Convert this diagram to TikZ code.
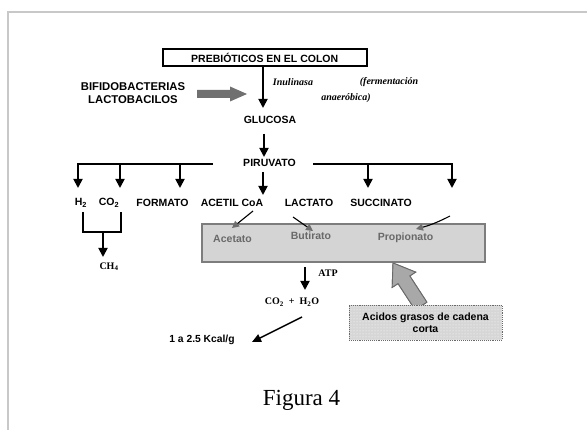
\documentclass[tikz,border=0pt]{standalone}
\usepackage{fontspec}
\setmainfont{Liberation Sans}
\newfontfamily\arialf{Liberation Sans}
\newfontfamily\serf{Liberation Serif}
\usetikzlibrary{arrows.meta,calc,patterns}
\definecolor{pagegrey}{RGB}{200,200,200}
\definecolor{boxfill}{RGB}{212,212,212}
\definecolor{boxborder}{RGB}{125,125,125}
\definecolor{grtext}{RGB}{105,105,105}
\definecolor{arrgrey}{RGB}{110,110,110}
\definecolor{bifarrow}{RGB}{112,112,112}
\definecolor{bigfill}{RGB}{168,168,168}
\definecolor{bigdraw}{RGB}{105,105,105}
\definecolor{acidfill}{RGB}{214,214,214}
\begin{document}
\begin{tikzpicture}[x=1pt,y=-1pt,
  lbl/.style={font=\arialf\bfseries\fontsize{10.5}{12.5}\selectfont, inner sep=0pt},
  glbl/.style={lbl, text=grtext},
  srf/.style={font=\serf\bfseries\fontsize{10}{12}\selectfont, inner sep=0pt},
  srfi/.style={font=\serf\bfseries\itshape\fontsize{10}{12}\selectfont, inner sep=0pt},
  ln/.style={line width=1.8pt},
  arr/.style={line width=1.8pt, -{Triangle[length=9pt,width=9pt]}},
  sarr/.style={line width=1.1pt, -{Triangle[length=7pt,width=7pt,color=arrgrey]}},
  pageline/.style={draw=pagegrey, line width=2.5pt},
]
\useasboundingbox (0,0) rectangle (587,430);
\fill[white] (0,0) rectangle (587,430);
% page frame
\coordinate (ftl) at (8,12);
\coordinate (ftr) at (587,12);
\coordinate (fbl) at (8,430);
\draw[pageline] (ftr) -- (ftl) -- (fbl);

% top box
\node[draw, line width=1.6pt, minimum width=204pt, minimum height=17pt, lbl] (pre) at (264.7,57.7) {PREBIÓTICOS EN EL COLON};

% bacteria
\node[lbl, font=\arialf\bfseries\fontsize{11.3}{13.5}\selectfont, align=center] (bifi) at (133,93) {BIFIDOBACTERIAS\\LACTOBACILOS};
\fill[bifarrow] (197,90) -- (230,90) -- (230,86.5) -- (247,94) -- (230,101.5) -- (230,98) -- (197,98) -- cycle;

% inulinasa
\coordinate (glutop) at (263,108);
\draw[arr] ([xshift=-1.7pt]pre.south) -- (glutop);
\node[srfi] (inu) at (293,82) {Inulinasa};
\node[srfi] (ferm) at (389,82) {(fermentación};
\node[srfi] (anae) at (346,98) {anaeróbica)};

\node[lbl] (glu) at (270,120) {GLUCOSA};
\coordinate (g1) at (264,134);
\coordinate (g2) at (264,157);
\draw[arr] (g1) -- (g2);

\node[lbl] (piru) at (269.5,163) {PIRUVATO};

% branches
\coordinate (pL) at (213,164);
\coordinate (h2t) at (78,188);
\coordinate (co2t) at (120,188);
\coordinate (fort) at (180,188);
\draw[arr] (pL) -| (h2t);
\draw[arr] (co2t |- pL) -- (co2t);
\draw[arr] (fort |- pL) -- (fort);
\coordinate (pR) at (313,164);
\coordinate (r1) at (368,188);
\coordinate (r2) at (452,188);
\draw[arr] (pR) -| (r2);
\draw[arr] (r1 |- pR) -- (r1);
\coordinate (m1) at (263,172);
\coordinate (m2) at (263,195);
\draw[arr] (m1) -- (m2);

% products
\node[lbl] (h2) at (81,203) {H\textsubscript{2}};
\node[lbl] (co2) at (109,203) {CO\textsubscript{2}};
\node[lbl] (form) at (162.5,203) {FORMATO};
\node[lbl] (acet) at (232,203) {ACETIL CoA};
\node[lbl] (lact) at (309,203) {LACTATO};
\node[lbl] (succ) at (381,203) {SUCCINATO};

% H2 CO2 bracket
\coordinate (bl) at (83,212);
\coordinate (br) at (121,212);
\coordinate (bm) at (103,232);
\draw[ln] (bl) |- (bm) -| (br);
\coordinate (ch4t) at (103,257);
\draw[arr] (bm) -- (ch4t);
\node[srf] (ch4) at (109,266.5) {CH\textsubscript{4}};

% big arrow (drawn under boxes)
\coordinate (bt) at (421,306);
\coordinate (bp) at (393,263);
\coordinate (bb) at ($(bp)!20pt!(bt)$);
\filldraw[fill=bigfill, draw=bigdraw, line width=0.9pt]
  ($(bt)!7pt!90:(bp)$) -- ($(bb)!7pt!-90:(bt)$) -- ($(bb)!14pt!-90:(bt)$) -- (bp)
  -- ($(bb)!14pt!90:(bt)$) -- ($(bb)!7pt!90:(bt)$) -- ($(bt)!7pt!-90:(bp)$) -- cycle;

% SCFA box
\node[draw=boxborder, fill=boxfill, line width=2pt, minimum width=283pt, minimum height=38pt, inner sep=0pt] (scfa) at (343,243.5) {};
\node[glbl] (acetato) at (232.5,239) {Acetato};
\node[glbl] (butir) at (311,236) {Butirato};
\node[glbl] (prop) at (405.5,238) {Propionato};

\coordinate (s1a) at (253,211);
\coordinate (s1b) at (232,228);
\draw[sarr] (s1a) -- (s1b);
\coordinate (s2a) at (293,217);
\coordinate (s2b) at (313,231);
\draw[sarr] (s2a) -- (s2b);
\coordinate (s3a) at (450,216);
\coordinate (s3b) at (416,229);
\draw[sarr] (s3a) to[bend left=6] (s3b);

% redraw arrow tip over box border
\begin{scope}
\clip (340,263) rectangle (440,320);
\filldraw[fill=bigfill, draw=bigdraw, line width=0.9pt]
  ($(bt)!7pt!90:(bp)$) -- ($(bb)!7pt!-90:(bt)$) -- ($(bb)!14pt!-90:(bt)$) -- (bp)
  -- ($(bb)!14pt!90:(bt)$) -- ($(bb)!7pt!90:(bt)$) -- ($(bt)!7pt!-90:(bp)$) -- cycle;
\end{scope}

% ATP
\coordinate (atp1) at (305,267);
\coordinate (atp2) at (305,290);
\draw[arr] (atp1) -- (atp2);
\node[srf] (atp) at (328,273) {ATP};
\node[srf] (co2h2o) at (292,302) {CO\textsubscript{2}\ \ +\ \ H\textsubscript{2}O};
\coordinate (k1) at (302,317);
\coordinate (k2) at (252,342);
\draw[line width=1.5pt, -{Triangle[length=9pt,width=8pt]}] (k1) -- (k2);
\node[lbl, font=\arialf\bfseries\fontsize{10.3}{12}\selectfont] (kcal) at (202,340) {1 a 2.5 Kcal/g};

% acidos box
\node[draw=bigdraw, densely dotted, line width=0.9pt, fill=acidfill, postaction={pattern=dots, pattern color=white}, minimum width=153pt, minimum height=35pt, inner sep=0pt, align=center, lbl, font=\arialf\bfseries\fontsize{10.5}{12.5}\selectfont] (acid) at (425.5,322.5) {Acidos grasos de cadena\\corta};

% caption
\node[font=\serf\fontsize{23}{26}\selectfont, inner sep=0pt] (fig) at (301.5,400) {Figura 4};
\end{tikzpicture}
\end{document}
